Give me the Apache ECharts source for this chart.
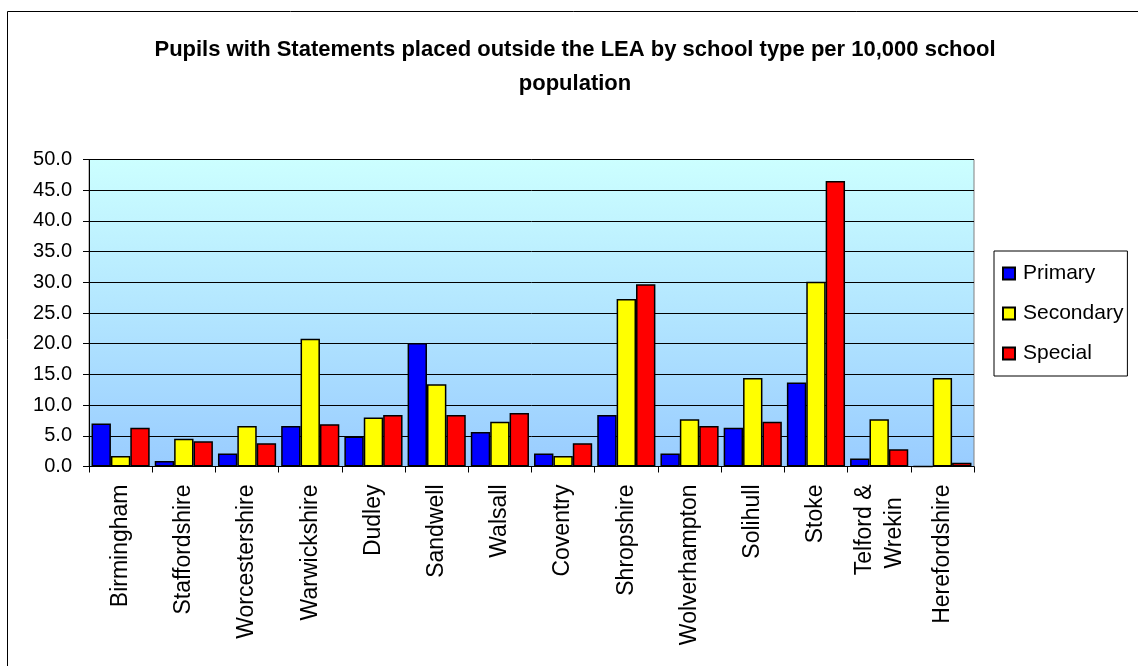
<!DOCTYPE html>
<html>
<head>
<meta charset="utf-8">
<script src="https://cdn.jsdelivr.net/npm/echarts@6/dist/echarts.min.js"></script>
<style>
html,body{margin:0;padding:0;background:#fff;}
#chart{width:1138px;height:666px;}
</style>
</head>
<body>
<div id="chart"></div>
<script>
const categories = ['Birmingham','Staffordshire','Worcestershire','Warwickshire','Dudley','Sandwell','Walsall','Coventry','Shropshire','Wolverhampton','Solihull','Stoke','Telford & Wrekin','Herefordshire'];
const primary   = [7.0, 0.9, 2.1, 6.6, 4.9, 20.1, 5.6, 2.1, 8.4, 2.1, 6.3, 13.7, 1.3, 0.0];
const secondary = [1.7, 4.5, 6.6, 20.8, 8.0, 13.4, 7.3, 1.7, 27.3, 7.7, 14.4, 30.1, 7.7, 14.4];
const special   = [6.3, 4.1, 3.8, 6.9, 8.4, 8.4, 8.7, 3.8, 29.7, 6.6, 7.3, 46.5, 2.8, 0.6];
const yTicks = { min: 0, max: 50, interval: 5 };
const titleText = 'Pupils with Statements placed outside the LEA by school type per 10,000 school\npopulation';

const FONT = "'Liberation Sans', Arial, sans-serif";
const chart = echarts.init(document.getElementById('chart'), null, {renderer:'canvas'});
const mk = (name, data, color) => ({
  name, type: 'bar', data,
  barGap: '0%', barCategoryGap: '8%',
  itemStyle: { color, borderColor: '#000', borderWidth: 1.5 }
});
chart.setOption({
  animation: false,
  backgroundColor: '#fff',
  graphic: [{
    type: 'rect', z: -1, silent: true,
    shape: { x: 7.5, y: 11.5, width: 1200, height: 700 },
    style: { fill: '#fff', stroke: '#000', lineWidth: 1 }
  }],
  title: {
    text: titleText,
    left: 570, top: 28, textAlign: 'center',
    textStyle: { fontFamily: FONT, fontSize: 22, fontWeight: 'bold', color: '#000', lineHeight: 34 }
  },
  legend: {
    orient: 'vertical', left: 994, top: 251,
    padding: [12, 4, 12, 8], itemGap: 19, itemWidth: 12, itemHeight: 12,
    icon: 'rect',
    borderColor: '#000', borderWidth: 1, backgroundColor: '#fff',
    textStyle: { fontFamily: FONT, fontSize: 21, color: '#000', padding: [0, 0, 0, 3] },
    data: ['Primary', 'Secondary', 'Special']
  },
  grid: {
    left: 89, right: 164, top: 159.5, bottom: 199.5,
    show: true, borderColor: '#808080', borderWidth: 1,
    backgroundColor: { type: 'linear', x: 0, y: 0, x2: 0, y2: 1,
      colorStops: [{ offset: 0, color: '#CCFFFF' }, { offset: 1, color: '#99CCFF' }] }
  },
  xAxis: {
    type: 'category', data: categories,
    axisLine: { lineStyle: { color: '#000', width: 1 } },
    axisTick: { show: true, length: 6, lineStyle: { color: '#000' } },
    axisLabel: {
      rotate: 90, margin: 18, interval: 0,
      fontFamily: FONT, fontSize: 23, color: '#000', lineHeight: 30,
      formatter: v => v === 'Telford & Wrekin' ? 'Telford &\nWrekin  ' : v
    }
  },
  yAxis: {
    type: 'value', min: yTicks.min, max: yTicks.max, interval: yTicks.interval,
    axisLine: { show: true, lineStyle: { color: '#000', width: 1 } },
    axisTick: { show: true, length: 6, lineStyle: { color: '#000' } },
    splitLine: { lineStyle: { color: '#000', width: 1 } },
    axisLabel: { margin: 17, fontFamily: FONT, fontSize: 20, color: '#000',
      formatter: v => v.toFixed(1) }
  },
  series: [
    mk('Primary', primary, '#0000FF'),
    mk('Secondary', secondary, '#FFFF00'),
    mk('Special', special, '#FF0000')
  ]
});
</script>
</body>
</html>
